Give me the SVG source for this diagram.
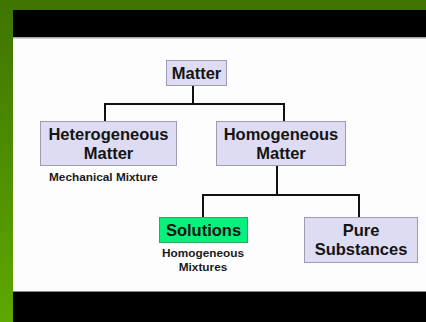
<svg xmlns="http://www.w3.org/2000/svg" width="426" height="322" viewBox="0 0 426 322">
<defs>
<linearGradient id="gl" x1="0" y1="0" x2="0" y2="1">
<stop offset="0" stop-color="#3e7400"/>
<stop offset="1" stop-color="#5ea800"/>
</linearGradient>
<style>
.box{fill:#dedcf2;stroke:#9c9cb2;stroke-width:1}
.sol{fill:#08f07c;stroke:#2fa866;stroke-width:1}
.t{font-family:"Liberation Sans",Arial,sans-serif;font-weight:bold;font-size:16.5px;fill:#141414;text-anchor:middle}
.s{font-family:"Liberation Sans",Arial,sans-serif;font-weight:bold;font-size:11.8px;fill:#1a1a1a}
.c{fill:none;stroke:#111;stroke-width:2}
</style>
</defs>
<rect x="0" y="0" width="426" height="322" fill="#fdfdfd"/>
<rect x="0" y="0" width="426" height="10" fill="#3f7500"/>
<rect x="0" y="0" width="13" height="322" fill="url(#gl)"/>
<rect x="13" y="10" width="413" height="27" fill="#000"/>
<rect x="13" y="37" width="413" height="1.5" fill="#a8a8a8"/>
<rect x="13" y="292" width="413" height="30" fill="#000"/>
<rect x="13" y="291" width="413" height="1" fill="#888"/>
<g id="connectors">
<path class="c" d="M193 85V104M105 121V104H284V121"/>
<path class="c" d="M277 165V195M203 217V195H359V217"/>
</g>
<g id="matter">
<rect class="box" x="166.5" y="60.5" width="60" height="25"/>
<text class="t" x="196.5" y="79">Matter</text>
</g>
<g id="heterogeneous">
<rect class="box" x="40.5" y="121.5" width="136" height="44"/>
<text class="t" x="108.5" y="140">Heterogeneous</text>
<text class="t" x="108.5" y="159">Matter</text>
</g>
<g id="mechanical">
<text class="s" x="49" y="181">Mechanical Mixture</text>
</g>
<g id="homogeneous">
<rect class="box" x="216.5" y="121.5" width="129" height="44"/>
<text class="t" x="281" y="140">Homogeneous</text>
<text class="t" x="281" y="159">Matter</text>
</g>
<g id="solutions">
<rect class="sol" x="159.5" y="217.5" width="88" height="25"/>
<text class="t" x="203.5" y="236">Solutions</text>
</g>
<g id="homomix">
<text class="s" x="203" y="257" text-anchor="middle">Homogeneous</text>
<text class="s" x="203" y="271" text-anchor="middle">Mixtures</text>
</g>
<g id="pure">
<rect class="box" x="304.5" y="217.5" width="113" height="45"/>
<text class="t" x="361" y="236">Pure</text>
<text class="t" x="361" y="255">Substances</text>
</g>
</svg>
